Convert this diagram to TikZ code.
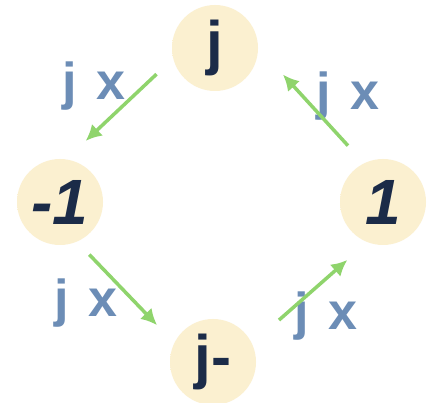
\documentclass[tikz,border=0pt]{standalone}
\usepackage{fontspec}
\setmainfont{Liberation Sans}
\usetikzlibrary{arrows.meta}
\definecolor{cream}{HTML}{FBF0D0}
\definecolor{ink}{HTML}{1B2B48}
\definecolor{steel}{HTML}{6C8DB6}
\definecolor{leaf}{HTML}{8FD46C}
\pgfdeclareradialshading{halo}{\pgfpoint{0bp}{0bp}}{color(0bp)=(cream); color(34bp)=(cream); color(50bp)=(cream!25!white)}
\tikzset{
  unit/.style={circle,shading=halo,minimum size=86pt,inner sep=0pt,outer sep=0pt,
    text=ink,font=\bfseries\fontsize{60}{64}\selectfont},
  factor/.style={anchor=base,inner sep=0pt,text=steel,font=\bfseries\fontsize{52}{56}\selectfont},
  turn/.style={-{Latex[length=16pt,width=16pt]},draw=leaf,line width=3.5pt}
}
\begin{document}
\begin{tikzpicture}[x=1pt,y=-1pt]
  \fill[white] (0,0) rectangle (429,403);
  \useasboundingbox (0,0) rectangle (429,403);
  % the four powers of j
  \node[unit] (jtop) at (215,48) {j};
  \node[unit,font=\bfseries\itshape\fontsize{64}{68}\selectfont] (neg) at (60,202) {-1};
  \node[unit,font=\bfseries\itshape\fontsize{64}{68}\selectfont] (pos) at (383,202) {1};
  \node[unit] (jbot) at (213,362) {j-};
  % multiplication labels
  \node[factor] (ftl) at (94,100) {j\hspace{20pt}x};
  \node[factor] (ftr) at (348,110) {j\hspace{20pt}x};
  \node[factor] (fbl) at (86,317) {j\hspace{20pt}x};
  \node[factor] (fbr) at (326,330) {j\hspace{20pt}x};
  % rotation arrows
  \draw[turn,shorten <=23pt,shorten >=27pt] (jtop.194) -- (neg.82);
  \draw[turn,shorten <=18pt,shorten >=25pt] (neg.293) -- (jbot.154);
  \draw[turn,shorten <=36pt,shorten >=27pt] (jbot.25) -- (pos.249);
  \draw[turn,shorten <=24pt,shorten >=37pt] (pos.116) -- (jtop.1);
\end{tikzpicture}
\end{document}
